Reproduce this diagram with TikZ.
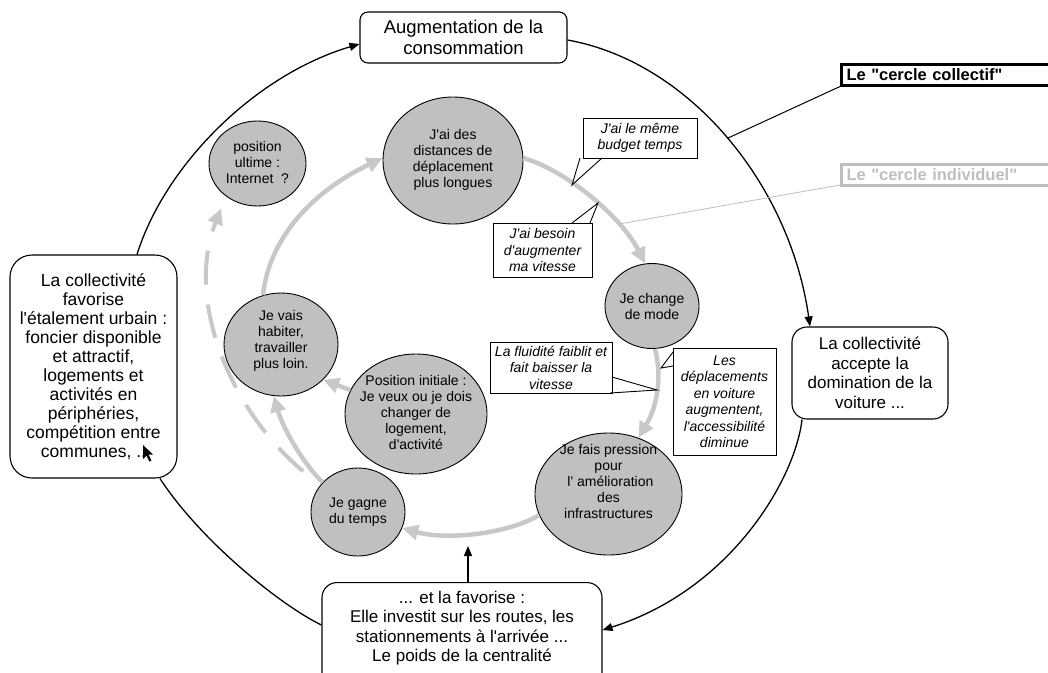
\documentclass[tikz,border=0pt]{standalone}
\usepackage{fontspec}
\newfontfamily\lsans{Liberation Sans}
\usetikzlibrary{shapes.geometric,arrows.meta}
\definecolor{bubfill}{RGB}{192,192,192}
\definecolor{arcgray}{RGB}{200,200,200}
\definecolor{lblgray}{RGB}{190,190,190}
\begin{document}
\begin{tikzpicture}[x=1pt,y=-1pt,
  bub/.style={ellipse,draw=black,line width=0.9pt,fill=bubfill,inner sep=0pt},
  btxt/.style={align=center,font=\lsans\fontsize{14}{16}\selectfont,inner sep=0pt},
  bigbox/.style={draw=black,line width=1.1pt,rounded corners=12pt,fill=white,align=center,inner sep=0pt,font=\lsans\fontsize{17}{19.5}\selectfont},
  callout/.style={draw=black,line width=0.9pt,fill=white,align=center,inner sep=0pt,font=\lsans\fontsize{14}{16.5}\selectfont\itshape},
  ptr/.style={draw=black,line width=0.9pt},
  garr/.style={draw=arcgray,line width=4.5pt,-{Triangle[length=16pt,width=15pt]}},
  gdash/.style={draw=arcgray,line width=4pt,dash pattern=on 34pt off 20pt,-{Triangle[length=16pt,width=15pt]}},
  barr/.style={draw=black,line width=1.3pt,-{Triangle[length=10pt,width=8pt]}},
  barc/.style={draw=black,line width=1.3pt},
  lbl/.style={anchor=west,inner xsep=5pt,inner ysep=0pt,minimum height=21pt,minimum width=230pt,text width=220pt,align=left,font=\lsans\fontsize{16.5}{18}\selectfont\bfseries},
]
\useasboundingbox (0,0) rectangle (1048,672);

% big boxes
\node[bigbox,minimum width=207pt,minimum height=51pt,rounded corners=8pt,font=\lsans\fontsize{18.5}{20.5}\selectfont] (aug) at (463.5,37.5) {Augmentation de la\\consommation};
\node[bigbox,minimum width=167pt,minimum height=223pt,rounded corners=22pt,font=\lsans\fontsize{17.5}{19}\selectfont] (coll) at (93.5,366.5) {La collectivité\\favorise\\l'étalement urbain :\\foncier disponible\\et attractif,\\logements et\\activités en\\périphéries,\\compétition entre\\communes, ..};
\node[bigbox,minimum width=156pt,minimum height=92pt,rounded corners=15pt] (accept) at (870,373) {La collectivité\\accepte la\\domination de la\\voiture ...};
\node[bigbox,minimum width=280pt,minimum height=140pt,rounded corners=15pt,anchor=north,text depth=52pt] (invest) at (462,582) {... et la favorise :\\Elle investit sur les routes, les\\stationnements à l'arrivée ...\\Le poids de la centralité};

% big black circle
\draw[barr] ([xshift=43.5pt]coll.north) .. controls (165,165) and (255,75) .. ([yshift=-6.5pt]aug.west);
\draw[barr] ([yshift=-2.5pt]aug.east) .. controls (690,62) and (790,185) .. coordinate[pos=0.5] (pcoll) ([xshift=-60pt]accept.north);
\draw[barr] ([xshift=-68pt]accept.south) .. controls (795,480) and (730,590) .. ([yshift=-48pt]invest.north east);
\draw[barc] ([yshift=-43pt]invest.north west) .. controls (280,605) and (200,540) .. ([xshift=66.5pt]coll.south);
\coordinate (up) at (468,546);
\draw[barr] ([xshift=6pt]invest.north) -- (up);

% cursor
\fill[black] (143,445) -- (143,459) -- (146.5,455.5) -- (149.5,461.5) -- (151.5,460.5) -- (148.5,454.5) -- (153,454.5) -- cycle;

% bubbles
\node[bub,minimum width=97pt,minimum height=85pt] (ultime) at (257.5,163.5) {};
\node[btxt] (ultimet) at (257.5,162) {position\\ultime :\\Internet\ \ ?};
\node[bub,minimum width=140pt,minimum height=127pt] (jai) at (453,160.5) {};
\node[btxt] (jait) at (453,160) {J'ai des\\distances de\\déplacement\\plus longues};
\node[bub,minimum width=94pt,minimum height=85pt] (change) at (652,306) {};
\node[btxt] (changet) at (652,306) {Je change\\de mode};
\node[bub,minimum width=114pt,minimum height=103pt] (vais) at (281,344.5) {};
\node[btxt] (vaist) at (281,341) {Je vais\\habiter,\\travailler\\plus loin.};
\node[bub,minimum width=142pt,minimum height=120pt] (posinit) at (416,414) {};
\node[btxt] (posinitt) at (416,412) {Position initiale :\\Je veux ou je dois\\changer de\\logement,\\d'activité};
\node[bub,minimum width=147pt,minimum height=122pt] (pression) at (608.5,494) {};
\node[btxt] (pressiont) at (608.5,481) {Je fais pression\\pour\\\ l' amélioration\\des\\infrastructures};
\node[bub,minimum width=94pt,minimum height=88pt] (gagne) at (358,512) {};
\node[btxt] (gagnet) at (358,512) {Je gagne\\du temps};

% gray arrows
\draw[garr] (gagne.140) .. controls (300,460) and (282,425) .. (vais.-98);
\draw[garr] (vais.110) .. controls (268,245) and (305,195) .. (jai.178);
\draw[garr] (jai.2) .. controls (565,170) and (620,215) .. coordinate[pos=0.72] (pind) (change.99);
\draw[garr] (change.-86) .. controls (662,375) and (658,405) .. (pression.62);
\draw[garr] (pression.197) .. controls (505,535) and (445,540) .. (gagne.-20);
\draw[garr] (posinit.160) -- (vais.-40);
\draw[gdash,shorten <=22pt,shorten >=13pt] (gagne.145) .. controls (230,410) and (185,300) .. (ultime.-134);

% callouts
\node[callout,minimum width=114pt,minimum height=40pt] (ca) at (640,138) {J'ai le même\\budget temps};
\draw[ptr] (580,158) -- (572,185) -- (602,158);
\node[callout,minimum width=99pt,minimum height=54pt] (cb) at (542.5,250) {J'ai besoin\\d'augmenter\\ma vitesse};
\draw[ptr] (572,223) -- (598,203) -- (590,223);
\node[callout,minimum width=122pt,minimum height=51pt] (cc) at (551,367.5) {La fluidité faiblit et\\fait baisser la\\vitesse};
\draw[ptr] (612,377) -- (657,390) -- (610,393);
\node[callout,minimum width=103pt,minimum height=107pt] (cd) at (724.5,401.5) {Les\\déplacements\\en voiture\\augmentent,\\l'accessibilité\\diminue};
\draw[ptr] (673,352) -- (661,368) -- (673,366);

% legend labels
\node[lbl,draw=black,line width=3pt] (lcoll) at (840,74.5) {Le "cercle collectif"};
\node[lbl,draw=lblgray,text=lblgray,line width=3pt] (lind) at (840,175) {Le "cercle individuel"};
\draw[black,line width=1pt] (lcoll.south west) -- (pcoll);
\draw[lblgray,line width=0.8pt] ([yshift=-10pt]lind.west) -- (pind);
\end{tikzpicture}
\end{document}
